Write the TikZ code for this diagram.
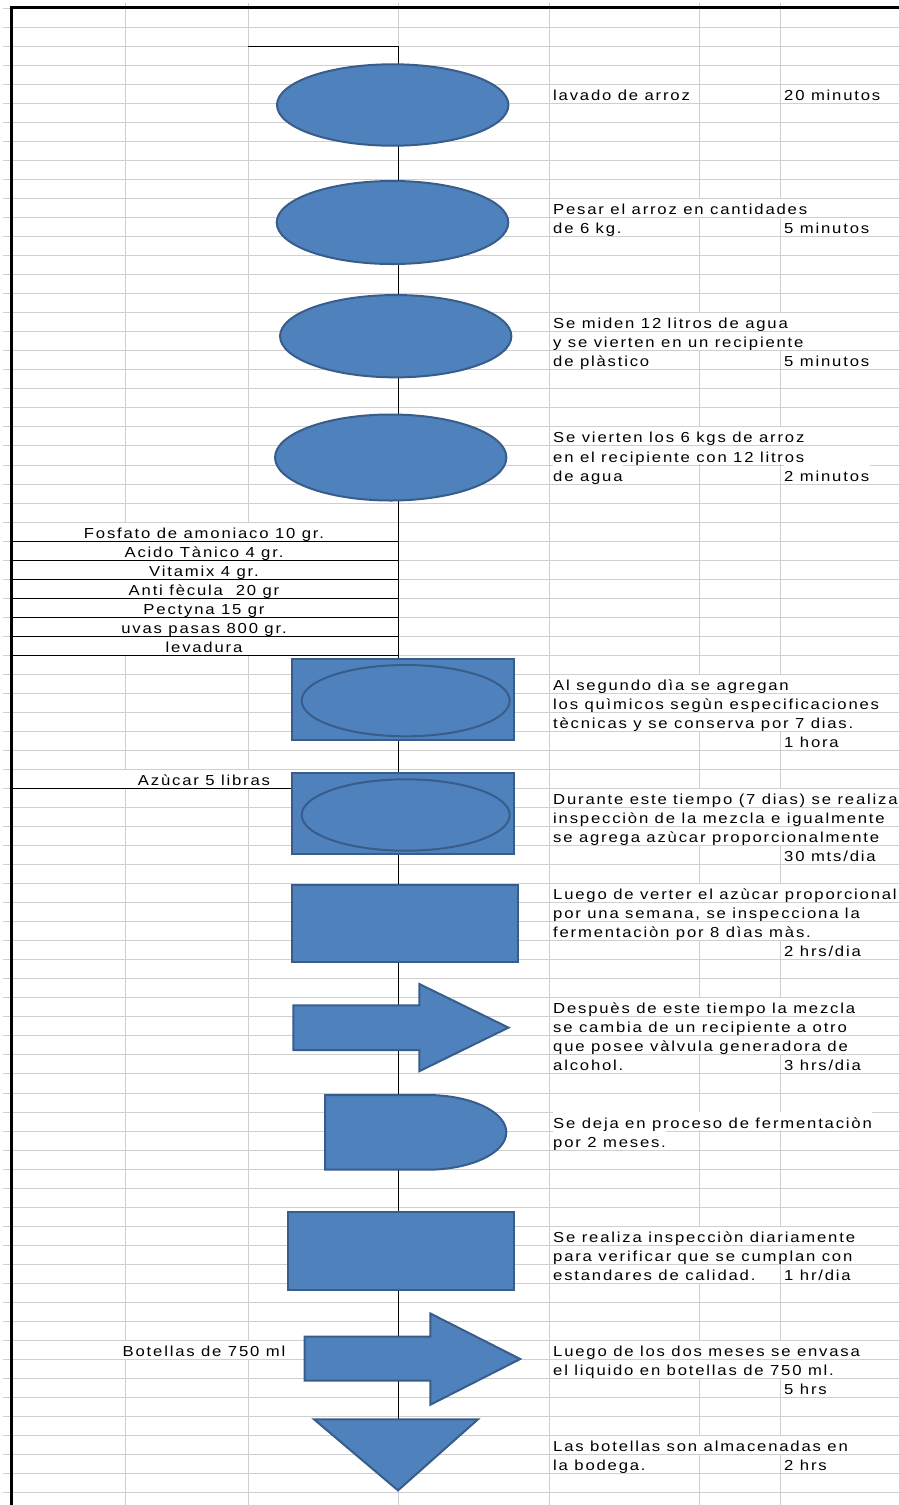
\documentclass[tikz,border=0pt]{standalone}
\usepackage{fontspec}
\newfontfamily\cellfont[FakeStretch=1.15,LetterSpace=12.5]{Liberation Sans}
\usetikzlibrary{shapes.geometric}

\definecolor{shapefill}{HTML}{4F81BD}
\definecolor{shapeedge}{HTML}{385D8A}
\definecolor{gridgray}{HTML}{CFCFCF}

% y position of the k-th sheet row line
\newcommand\rowline[1]{8.3+19.03*(#1)}
% text in the notes column, the time column, and merged cells on the left
\newcommand\stepnote[3]{\node[cell] (#1) at (552.5,{\rowline{#2+1}-0.5}) {#3};}
\newcommand\timenote[3]{\node[cell] (#1) at (783.5,{\rowline{#2+1}-0.5}) {#3};}
\newcommand\mergednote[3]{\node[mcell] (#1) at (204,{\rowline{#2+1}-0.5}) {#3};}

\tikzset{
  cellfontstyle/.style={font={\cellfont\fontsize{14.5pt}{17pt}\selectfont}},
  cell/.style={cellfontstyle, anchor=south west, fill=white, inner xsep=0.5pt,
    inner ysep=0pt, text height=15.7pt, text depth=2.3pt},
  mcell/.style={cellfontstyle, anchor=south, inner sep=0pt,
    text height=15.7pt, text depth=2.3pt},
  gridrule/.style={draw=gridgray, line width=1pt},
  tablerule/.style={draw=black, line width=1pt},
  spine/.style={draw=black, line width=1.3pt},
  blueshape/.style={fill=shapefill, draw=shapeedge, line width=2pt},
  opnode/.style={blueshape, ellipse, inner sep=0pt},
  boxnode/.style={blueshape, rectangle, inner sep=0pt},
  ringnode/.style={draw=shapeedge, line width=2pt, ellipse, inner sep=0pt},
}

\begin{document}
\begin{tikzpicture}[x=1pt,y=-1pt]
  \path[use as bounding box] (0,0) rectangle (899,1505);
  \clip (0,0) rectangle (899,1505);
  \fill[white] (0,0) rectangle (899,1505);

  % sheet grid
  \foreach \k in {0,...,78}
    \draw[gridrule] (3,{\rowline{\k}}) -- (899,{\rowline{\k}});
  \foreach \x in {125.3,248,398.3,549,699.3,780}
    \draw[gridrule] (\x,3) -- (\x,1505);

  % ingredient table
  \fill[white] (11,{\rowline{27}+0.5}) rectangle (398,{\rowline{34}});
  \foreach \k in {28,...,34}
    \draw[tablerule] (11,{\rowline{\k}}) -- (398.3,{\rowline{\k}});
  \mergednote{ing1}{27}{Fosfato de amoniaco 10 gr.}
  \mergednote{ing2}{28}{Acido Tànico 4 gr.}
  \mergednote{ing3}{29}{Vitamix 4 gr.}
  \mergednote{ing4}{30}{Anti fècula\ \ 20 gr}
  \mergednote{ing5}{31}{Pectyna 15 gr}
  \mergednote{ing6}{32}{uvas pasas 800 gr.}
  \mergednote{ing7}{33}{levadura}

  % sugar input
  \fill[white] (12,{\rowline{40}+0.5}) rectangle (397,{\rowline{41}-0.5});
  \draw[tablerule] (11,{\rowline{41}}) -- (291,{\rowline{41}});
  \mergednote{sugar}{40}{Azùcar 5 libras}

  % bottle input
  \fill[white] (12,{\rowline{70}+0.5}) rectangle (397,{\rowline{71}-0.5});
  \mergednote{bottles}{70}{Botellas de 750 ml}

  % process line
  \coordinate (spinestart) at (248,46.4);
  \coordinate (storetop) at (398.3,1419.3);
  \draw[spine] (spinestart) -| (storetop);

  % operations
  \node[opnode, minimum width=231.4pt, minimum height=81.4pt] (wash) at (392.7,105) {};
  \node[opnode, minimum width=231.6pt, minimum height=83pt] (weigh) at (392.5,222.5) {};
  \node[opnode, minimum width=231.3pt, minimum height=82.3pt] (water) at (395.7,336.2) {};
  \node[opnode, minimum width=231.3pt, minimum height=86pt] (pour) at (390.7,457.5) {};

  % combined operation / inspection
  \node[boxnode, minimum width=222.3pt, minimum height=80.7pt] (chembox) at (402.85,699.65) {};
  \node[ringnode, minimum width=208pt, minimum height=71.3pt] (chemring) at (405.7,700.65) {};
  \node[boxnode, minimum width=222.3pt, minimum height=80.7pt] (sugarbox) at (402.85,813.65) {};
  \node[ringnode, minimum width=208pt, minimum height=71.4pt] (sugarring) at (405.7,815) {};

  % inspections
  \node[boxnode, minimum width=226.6pt, minimum height=77.3pt] (ferment) at (405,923.65) {};
  \node[boxnode, minimum width=226pt, minimum height=78.6pt] (quality) at (400.8,1251) {};

  % transports
  \draw[blueshape] (293.3,1005.3) -- (419.3,1005.3) -- (419.3,984) -- (508.5,1027.6)
    -- (419.3,1071.2) -- (419.3,1050) -- (293.3,1050) -- cycle;
  \draw[blueshape] (304.7,1336.7) -- (430.4,1336.7) -- (430.4,1313.5) -- (520.2,1359)
    -- (430.4,1404.7) -- (430.4,1380.7) -- (304.7,1380.7) -- cycle;

  % delay
  \draw[blueshape] (325,1095) -- (427,1095) arc[start angle=-90, end angle=90,
    x radius=79.3, y radius=37.35] -- (325,1169.7) -- cycle;

  % storage
  \draw[blueshape] (314,1419.3) -- (478,1419.3) -- (398,1490.4) -- cycle;

  % sheet border
  \draw[line width=3pt] (11,1505) -- (11,7.5) -- (899,7.5);

  % notes column
  \stepnote{n1}{4}{lavado de arroz}
  \timenote{t1}{4}{20 minutos}
  \stepnote{n2a}{10}{Pesar el arroz en cantidades}
  \stepnote{n2b}{11}{de 6 kg.}
  \timenote{t2}{11}{5 minutos}
  \stepnote{n3a}{16}{Se miden 12 litros de agua}
  \stepnote{n3b}{17}{y se vierten en un recipiente}
  \stepnote{n3c}{18}{de plàstico}
  \timenote{t3}{18}{5 minutos}
  \stepnote{n4a}{22}{Se vierten los 6 kgs de arroz}
  \stepnote{n4b}{23}{en el recipiente con 12 litros}
  \stepnote{n4c}{24}{de agua}
  \timenote{t4}{24}{2 minutos}
  \stepnote{n5a}{35}{Al segundo dìa se agregan}
  \stepnote{n5b}{36}{los quìmicos segùn especificaciones}
  \stepnote{n5c}{37}{tècnicas y se conserva por 7 dias.}
  \timenote{t5}{38}{1 hora}
  \stepnote{n6a}{41}{Durante este tiempo (7 dias) se realiza}
  \stepnote{n6b}{42}{inspecciòn de la mezcla e igualmente}
  \stepnote{n6c}{43}{se agrega azùcar proporcionalmente}
  \timenote{t6}{44}{30 mts/dia}
  \stepnote{n7a}{46}{Luego de verter el azùcar proporcional}
  \stepnote{n7b}{47}{por una semana, se inspecciona la}
  \stepnote{n7c}{48}{fermentaciòn por 8 dìas màs.}
  \timenote{t7}{49}{2 hrs/dia}
  \stepnote{n8a}{52}{Despuès de este tiempo la mezcla}
  \stepnote{n8b}{53}{se cambia de un recipiente a otro}
  \stepnote{n8c}{54}{que posee vàlvula generadora de}
  \stepnote{n8d}{55}{alcohol.}
  \timenote{t8}{55}{3 hrs/dia}
  \stepnote{n9a}{58}{Se deja en proceso de fermentaciòn}
  \stepnote{n9b}{59}{por 2 meses.}
  \stepnote{n10a}{64}{Se realiza inspecciòn diariamente}
  \stepnote{n10b}{65}{para verificar que se cumplan con}
  \stepnote{n10c}{66}{estandares de calidad.}
  \timenote{t10}{66}{1 hr/dia}
  \stepnote{n11a}{70}{Luego de los dos meses se envasa}
  \stepnote{n11b}{71}{el liquido en botellas de 750 ml.}
  \timenote{t11}{72}{5 hrs}
  \stepnote{n12a}{75}{Las botellas son almacenadas en}
  \stepnote{n12b}{76}{la bodega.}
  \timenote{t12}{76}{2 hrs}
\end{tikzpicture}
\end{document}
